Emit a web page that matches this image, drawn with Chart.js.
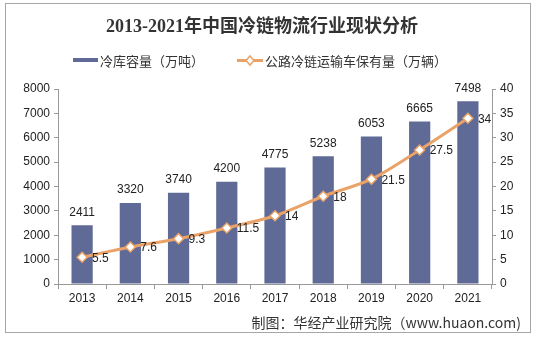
<!DOCTYPE html>
<html>
<head>
<meta charset="utf-8">
<script src="https://cdn.jsdelivr.net/npm/chart.js@4.4.0/dist/chart.umd.min.js"></script>
<style>
  body { margin: 0; background: #fff; }
  #wrap { position: relative; width: 537px; height: 338px; }
</style>
</head>
<body>
<div id="wrap"><canvas id="grafico" width="537" height="338"></canvas></div>
<script>
// datos
var anios = ['2013', '2014', '2015', '2016', '2017', '2018', '2019', '2020', '2021'];
var capacidad = [2411, 3320, 3740, 4200, 4775, 5238, 6053, 6665, 7498];   // 冷库容量（万吨）
var vehiculos = [5.5, 7.6, 9.3, 11.5, 14, 18, 21.5, 27.5, 34];            // 公路冷链运输车保有量（万辆）
var nombreBarra = '冷库容量（万吨）';
var nombreLinea = '公路冷链运输车保有量（万辆）';
var titulo = '2013-2021年中国冷链物流行业现状分析';
var fuente = '制图：华经产业研究院（www.huaon.com)';

var colorBarra = '#5f6b96';
var colorLinea = '#e9a268';
var fuenteTexto = 'Arial, "Liberation Sans", "Noto Sans CJK SC", sans-serif';

// dibuja titulo, leyenda, etiquetas y pie
var extras = {
    id: 'extras',
    beforeDraw: function (chart) {
        var c = chart.ctx;
        c.save();
        c.fillStyle = '#fff';
        c.fillRect(0, 0, chart.width, chart.height);
        c.strokeStyle = '#a6a6a6';
        c.lineWidth = 1;
        c.strokeRect(5.5, 3.5, 525, 329);
        c.restore();
    },
    afterDraw: function (chart) {
        var c = chart.ctx;
        c.save();
        // titulo
        c.fillStyle = '#333';
        c.font = 'bold 18px "Liberation Serif", "DejaVu Serif", "Noto Sans CJK SC", serif';
        c.textAlign = 'center';
        c.textBaseline = 'middle';
        c.fillText(titulo, 262, 27);

        // leyenda
        c.font = '13px "Noto Sans CJK SC", sans-serif';
        c.textAlign = 'left';
        c.fillStyle = colorBarra;
        c.fillRect(73, 58, 25, 4);
        c.fillStyle = '#333';
        c.fillText(nombreBarra, 100, 61);
        c.strokeStyle = colorLinea;
        c.lineWidth = 3;
        c.beginPath();
        c.moveTo(237, 60.5);
        c.lineTo(263, 60.5);
        c.stroke();
        c.fillStyle = '#fff';
        c.lineWidth = 1.5;
        c.beginPath();
        c.moveTo(250, 56); c.lineTo(254, 60.5); c.lineTo(250, 65); c.lineTo(246, 60.5);
        c.closePath();
        c.fill();
        c.stroke();
        c.fillStyle = '#333';
        c.fillText(nombreLinea, 265, 61);

        // etiquetas de barras (dataset 1)
        c.font = '12px ' + fuenteTexto;
        c.fillStyle = '#222';
        c.textAlign = 'center';
        chart.getDatasetMeta(1).data.forEach(function (bar, i) {
            c.fillText(capacidad[i], bar.x, bar.y - 13);
        });
        // etiquetas de linea (dataset 0)
        c.textAlign = 'left';
        chart.getDatasetMeta(0).data.forEach(function (p, i) {
            c.fillText(vehiculos[i], p.x + 10, p.y + 1);
        });

        // pie
        c.font = '14px "Noto Sans CJK SC", sans-serif';
        c.fillStyle = '#333';
        c.textAlign = 'right';
        c.fillText(fuente, 521, 323);
        c.restore();
    }
};

function sinComas(v) { return String(v); }

var ctx = document.getElementById('grafico').getContext('2d');
var myChart = new Chart(ctx, {
    data: {
        labels: anios,
        datasets: [
            {
                type: 'line',
                label: nombreLinea,
                data: vehiculos,
                yAxisID: 'y2',
                borderColor: colorLinea,
                borderWidth: 3,
                tension: 0.3,
                pointStyle: 'rectRot',
                pointRadius: 5,
                pointBackgroundColor: '#fff',
                pointBorderColor: colorLinea,
                pointBorderWidth: 1.5,
                order: 0
            },
            {
                type: 'bar',
                label: nombreBarra,
                data: capacidad,
                yAxisID: 'y',
                backgroundColor: colorBarra,
                categoryPercentage: 0.88,
                barPercentage: 0.5,
                order: 1
            }
        ]
    },
    options: {
        responsive: false,
        animation: false,
        events: [],
        layout: { padding: { top: 89, left: 0, right: 0, bottom: 0 } },
        plugins: {
            legend: { display: false },
            title: { display: false },
            tooltip: { enabled: false }
        },
        scales: {
            x: {
                offset: true,
                grid: { display: true, drawOnChartArea: false, offset: true, tickLength: 5, color: '#999' },
                border: { color: '#999' },
                ticks: { color: '#222', font: { size: 12, family: fuenteTexto }, padding: 2 },
                afterFit: function (s) { s.height = 54; }
            },
            y: {
                position: 'left',
                min: 0,
                max: 8000,
                grid: { display: true, drawOnChartArea: false, tickLength: 4, color: '#999' },
                border: { color: '#999' },
                ticks: { stepSize: 1000, callback: sinComas, color: '#222', font: { size: 12, family: fuenteTexto }, padding: 4 },
                afterFit: function (s) { s.width = 58; }
            },
            y2: {
                position: 'right',
                min: 0,
                max: 40,
                grid: { display: true, drawOnChartArea: false, tickLength: 4, color: '#999' },
                border: { color: '#999' },
                ticks: { stepSize: 5, color: '#222', font: { size: 12, family: fuenteTexto }, padding: 4 },
                afterFit: function (s) { s.width = 45; }
            }
        }
    },
    plugins: [extras]
});
</script>
</body>
</html>
